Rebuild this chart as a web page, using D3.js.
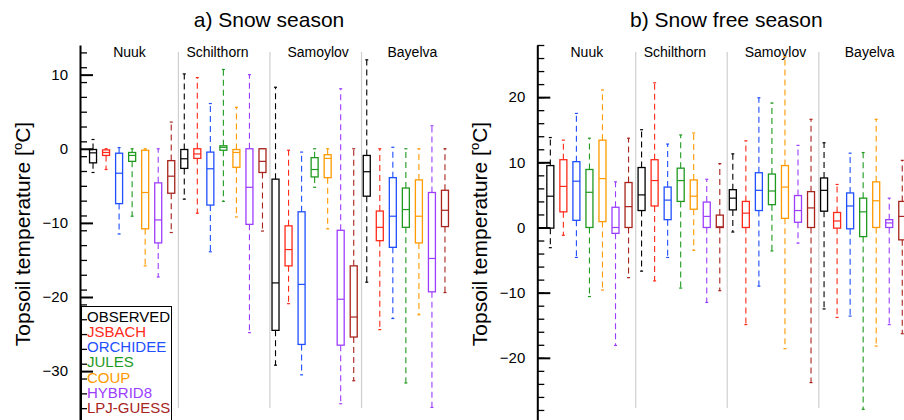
<!DOCTYPE html>
<html>
<head>
<meta charset="utf-8">
<script src="https://cdn.jsdelivr.net/npm/d3@7"></script>
<style>
  html, body { margin: 0; padding: 0; background: #fff; }
  svg { display: block; font-family: "Liberation Sans", Arial, Helvetica, sans-serif; }
</style>
</head>
<body>
<svg id="chart" width="904" height="420"></svg>
<script>
// ---- data ----
const sites = ["Nuuk", "Schilthorn", "Samoylov", "Bayelva"];
const models = ["OBSERVED", "JSBACH", "ORCHIDEE", "JULES", "COUP", "HYBRID8", "LPJ-GUESS"];
const modelColors = ["#000000", "#ff2a1a", "#1f4fff", "#1f9a1f", "#ff9a00", "#9d3dff", "#a8231c"];

// each row: [lower whisker, q1, median, q3, upper whisker]  (°C)
const snowNuuk = [[-3.2,-1.9,-0.55,-0.1,1.25],[-2.8,-0.9,-0.5,-0.15,0.0],[-11.5,-7.4,-3.3,-0.6,0.15],[-9.1,-1.7,-0.9,-0.5,0.0],[-15.8,-10.8,-5.9,-0.2,0.0],[-17.3,-12.7,-9.6,-4.6,0.0],[-11.3,-6.0,-3.7,-1.6,3.6]];
const snowSchilthorn = [[-6.8,-2.65,-1.35,-0.1,10.1],[-8.7,-1.3,-0.7,0.0,9.6],[-13.9,-7.6,-2.7,-0.45,6.1],[-7.1,-0.2,0.2,0.4,10.7],[-9.2,-2.5,-0.5,-0.1,5.6],[-24.8,-10.2,-5.2,0.0,10.0],[-11.1,-3.2,-1.7,0.0,0.0]];
const snowSamoylov = [[-29.2,-24.5,-18.1,-4.1,8.3],[-20.9,-15.8,-13.6,-10.4,-0.2],[-30.5,-26.4,-18.3,-8.5,-0.45],[-5.2,-3.8,-2.8,-1.2,0.0],[-10.8,-3.9,-1.3,-0.8,0.0],[-34.4,-26.5,-20.3,-11.0,8.1],[-31.3,-25.4,-22.7,-15.8,0.0]];
const snowBayelva = [[-18.0,-6.4,-3.1,-0.9,12.0],[-24.4,-12.4,-10.6,-8.4,0.0],[-22.9,-13.3,-9.1,-3.9,0.2],[-31.6,-10.6,-8.2,-5.3,0.0],[-22.4,-12.7,-9.1,-4.2,0.0],[-34.9,-19.3,-14.8,-5.9,3.1],[-19.4,-10.5,-8.3,-5.6,0.0]];

const freeNuuk = [[-3.1,-0.1,4.8,9.5,13.8],[-1.2,2.4,6.3,10.4,13.4],[-4.6,1.1,7.1,10.1,17.5],[-10.6,0.0,5.4,8.9,13.7],[-9.6,0.9,7.5,13.4,21.1],[-18.1,-0.9,0.0,3.1,7.0],[-7.7,0.0,3.2,6.9,13.7]];
const freeSchilthorn = [[-6.7,2.6,5.0,9.2,15.0],[-8.2,3.3,7.2,10.4,22.2],[-4.6,1.2,4.2,6.2,12.8],[-9.3,4.0,7.2,9.1,14.2],[-3.5,2.8,4.8,7.3,14.5],[-11.5,0.0,1.7,3.9,7.4],[-9.7,0.0,0.1,1.9,9.8]];
const freeSamoylov = [[-0.7,2.7,4.5,5.8,11.3],[-14.9,0.0,2.2,4.0,13.3],[-9.0,2.6,5.7,8.4,19.9],[-3.6,3.5,5.6,8.2,19.1],[-18.6,1.4,6.2,9.5,26.2],[-2.4,0.8,2.6,4.9,12.6],[-23.8,0.0,3.0,5.5,16.6]];
const freeBayelva = [[-12.5,2.5,5.7,7.6,13.0],[-13.8,-0.1,1.0,2.3,6.6],[-13.6,-0.2,3.3,5.3,11.4],[-27.9,-1.4,2.4,4.5,11.5],[-18.2,0.0,4.1,7.0,16.6],[-14.9,0.0,0.7,1.2,4.5],[-16.3,-1.9,1.7,4.0,10.3]];

const snowTicks = [-30, -20, -10, 0, 10];
const freeTicks = [-20, -10, 0, 10, 20];

// ---- layout ----
const panels = [
  { title: "a) Snow season", left: 80, domain: [-37, 14], ticks: snowTicks,
    data: [snowNuuk, snowSchilthorn, snowSamoylov, snowBayelva] },
  { title: "b) Snow free season", left: 537.3, domain: [-30, 28], ticks: freeTicks,
    data: [freeNuuk, freeSchilthorn, freeSamoylov, freeBayelva] }
];
const plotTop = 45, plotBottom = 423, plotW = 378;
const separatorIdx = [7.55, 14.57, 21.6];
const siteLabelIdx = [3.8, 10.55, 18.27, 25.5];
const boxW = 7, capW = 3;

const svg = d3.select("#chart");

panels.forEach((p, pi) => {
  const g = svg.append("g");
  const x = d3.scaleLinear().domain([0, 29]).range([p.left, p.left + plotW]);
  const y = d3.scaleLinear().domain(p.domain).range([plotBottom, plotTop]);

  // title
  g.append("text")
    .attr("x", p.left + plotW / 2).attr("y", 27)
    .attr("text-anchor", "middle")
    .attr("font-size", 21)
    .text(p.title);

  // y label
  const yl = g.append("text")
    .attr("transform", `translate(${p.left - 50},${(plotTop + plotBottom) / 2}) rotate(-90)`)
    .attr("text-anchor", "middle")
    .attr("font-size", 21);
  yl.append("tspan").text("Topsoil temperature [");
  yl.append("tspan").attr("font-size", 13).attr("dy", -8).text("o");
  yl.append("tspan").attr("dy", 8).text("C]");

  // separators
  g.selectAll("line.sep").data(separatorIdx).enter().append("line")
    .attr("x1", d => x(d)).attr("x2", d => x(d))
    .attr("y1", 52).attr("y2", 408)
    .attr("stroke", "#cfcfcf").attr("stroke-width", 1.2);

  // site labels
  g.selectAll("text.site").data(sites).enter().append("text")
    .attr("x", (d, i) => x(siteLabelIdx[i])).attr("y", 57)
    .attr("text-anchor", "middle").attr("font-size", 14)
    .text(d => d);

  // boxes
  const flat = [];
  p.data.forEach((site, si) => site.forEach((st, mi) => {
    flat.push({ idx: si * 7 + mi + 1, st, color: modelColors[mi] });
  }));
  const bg = g.selectAll("g.box").data(flat).enter().append("g")
    .attr("fill", "none").attr("stroke", d => d.color);
  // whiskers (dashed)
  bg.append("line")
    .attr("x1", d => x(d.idx)).attr("x2", d => x(d.idx))
    .attr("y1", d => y(d.st[3])).attr("y2", d => y(d.st[4]))
    .attr("stroke-width", 1.1).attr("stroke-dasharray", "6,4");
  bg.append("line")
    .attr("x1", d => x(d.idx)).attr("x2", d => x(d.idx))
    .attr("y1", d => y(d.st[1])).attr("y2", d => y(d.st[0]))
    .attr("stroke-width", 1.1).attr("stroke-dasharray", "6,4");
  // caps
  [0, 4].forEach(k => {
    bg.append("line")
      .attr("x1", d => x(d.idx) - capW / 2).attr("x2", d => x(d.idx) + capW / 2)
      .attr("y1", d => y(d.st[k])).attr("y2", d => y(d.st[k]))
      .attr("stroke-width", 1.2);
  });
  // box
  bg.append("rect")
    .attr("x", d => x(d.idx) - boxW / 2)
    .attr("y", d => y(d.st[3]))
    .attr("width", boxW)
    .attr("height", d => Math.max(0.5, y(d.st[1]) - y(d.st[3])))
    .attr("fill", "#fff")
    .attr("stroke-width", 1.3);
  // median
  bg.append("line")
    .attr("x1", d => x(d.idx) - boxW / 2).attr("x2", d => x(d.idx) + boxW / 2)
    .attr("y1", d => y(d.st[2])).attr("y2", d => y(d.st[2]))
    .attr("stroke-width", 1.2);

  // legend (left panel only)
  if (pi === 0) {
    const lg = g.append("g");
    lg.append("rect")
      .attr("x", p.left + 1.5).attr("y", 306.5)
      .attr("width", 90).attr("height", 130)
      .attr("fill", "#fff").attr("stroke", "#000").attr("stroke-width", 1);
    lg.selectAll("text").data(models).enter().append("text")
      .attr("x", p.left + 7).attr("y", (d, i) => 321.7 + i * 15.2)
      .attr("font-size", 15)
      .attr("fill", (d, i) => modelColors[i])
      .text(d => d);
  }

  // axis: minor ticks
  const minor = d3.range(p.domain[0], p.domain[1] + 0.001, 2);
  g.append("g")
    .attr("transform", `translate(${p.left},0)`)
    .call(d3.axisLeft(y).tickValues(minor).tickSize(-7).tickFormat(""))
    .call(a => a.select(".domain").remove())
    .call(a => a.selectAll("line").attr("stroke-width", 1.3));
  // major
  g.append("g")
    .attr("transform", `translate(${p.left},0)`)
    .call(d3.axisLeft(y).tickValues(p.ticks).tickSizeInner(-13).tickSizeOuter(0).tickPadding(12))
    .call(a => a.select(".domain").attr("stroke-width", 2))
    .call(a => a.selectAll(".tick line").attr("stroke-width", 2))
    .call(a => a.selectAll("text").attr("font-size", 15)
      .attr("font-family", "Liberation Sans, Arial, sans-serif").attr("fill", "#000"));
});
</script>
</body>
</html>
